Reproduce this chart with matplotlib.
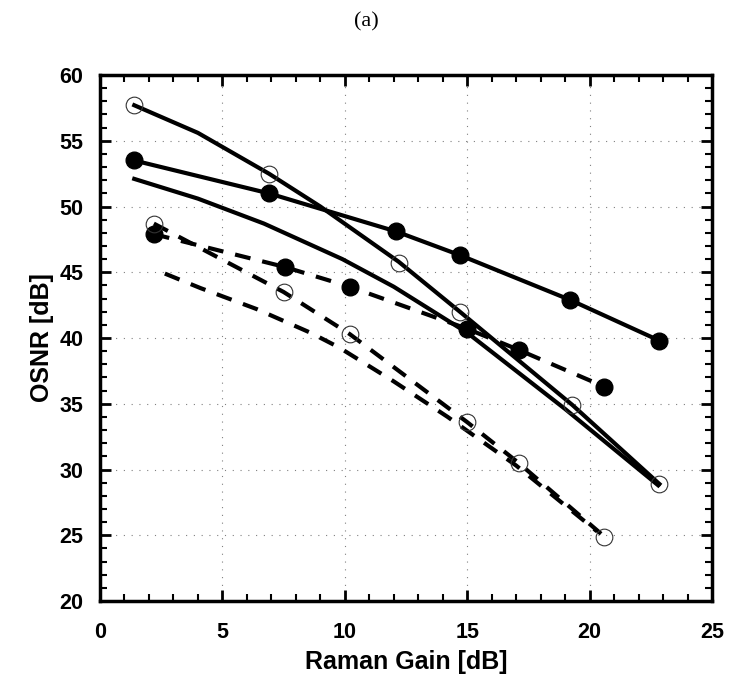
import matplotlib
matplotlib.use("Agg")
import matplotlib.pyplot as plt
from matplotlib.ticker import MultipleLocator

# Solid line with open circles (upper)
s1_x = [1.4, 4.0, 6.9, 9.0, 12.2, 14.7, 19.3, 22.85]
s1_y = [57.7, 55.6, 52.5, 50.0, 45.8, 42.0, 34.9, 28.9]
o1_x = [1.4, 6.9, 12.2, 14.7, 19.3, 22.85]
o1_y = [57.7, 52.5, 45.7, 42.0, 34.9, 28.9]

# Solid line with filled circles
s2_x = [1.4, 6.9, 12.1, 14.7, 19.2, 22.85]
s2_y = [53.5, 51.0, 48.1, 46.3, 42.9, 39.8]

# Solid line without markers
s3_x = [1.4, 4.0, 6.7, 9.9, 12.0, 15.0, 19.0, 22.8]
s3_y = [52.1, 50.6, 48.7, 46.0, 43.9, 40.4, 34.6, 28.8]

# Dashed line with filled circles
d4_x = [2.2, 7.55, 10.2, 15.0, 17.1, 20.6]
d4_y = [47.9, 45.4, 43.9, 40.7, 39.1, 36.3]

# Dashed line with open circles
d5_x = [2.2, 7.5, 10.2, 15.0, 17.1, 20.6]
d5_y = [48.7, 43.5, 40.3, 33.6, 30.5, 24.9]

# Dashed line without markers
d6_x = [2.65, 4.1, 6.4, 8.6, 9.75, 12.0, 14.2, 17.0, 20.3]
d6_y = [44.9, 43.8, 42.2, 40.4, 39.3, 36.7, 34.0, 30.3, 25.3]

x_ticks = [0, 5, 10, 15, 20, 25]
y_ticks = [20, 25, 30, 35, 40, 45, 50, 55, 60]

fig = plt.figure(figsize=(7.33, 6.85), dpi=100)
ax = fig.add_axes([0.1364, 0.1226, 0.8350, 0.7679])

lw = 3.0
dash = (0, (3.8, 2.9))
ax.plot(s1_x, s1_y, color="black", lw=lw, zorder=3)
ax.plot(s2_x, s2_y, color="black", lw=lw, marker="o", ms=12,
        mfc="black", mec="black", zorder=4)
ax.plot(s3_x, s3_y, color="black", lw=lw, zorder=3)
ax.plot(d4_x, d4_y, color="black", lw=lw, ls=dash, marker="o", ms=12,
        mfc="black", mec="black", zorder=4)
ax.plot(d5_x, d5_y, color="black", lw=lw, ls=dash, zorder=3)
ax.plot(d6_x, d6_y, color="black", lw=lw, ls=dash, zorder=3)
ax.plot(o1_x, o1_y, ls="none", marker="o", ms=12, mfc="none", mec="#333333",
        mew=0.8, zorder=5)
ax.plot(d5_x, d5_y, ls="none", marker="o", ms=12, mfc="none", mec="#333333",
        mew=0.8, zorder=5)

ax.set_xlim(0, 25)
ax.set_ylim(20, 60)
ax.set_xticks(x_ticks)
ax.set_yticks(y_ticks)
ax.xaxis.set_minor_locator(MultipleLocator(1))
ax.yaxis.set_minor_locator(MultipleLocator(1))
ax.tick_params(which="both", direction="in", top=True, right=True, width=1.5,
               color="black")
ax.tick_params(which="major", length=8, labelsize=15.5, width=2)
ax.tick_params(which="minor", length=5)
ax.tick_params(axis="x", which="major", pad=15)
ax.tick_params(axis="y", which="major", pad=12)
for lab in ax.get_xticklabels() + ax.get_yticklabels():
    lab.set_fontfamily("Liberation Sans")
    lab.set_fontweight("bold")
for sp in ax.spines.values():
    sp.set_linewidth(2.5)

ax.grid(True, which="major", ls=(0, (1, 6)), color="gray", lw=0.8)

ax.set_xlabel("Raman Gain [dB]", fontsize=18, fontweight="bold",
              family="Liberation Sans", labelpad=5)
ax.set_ylabel("OSNR [dB]", fontsize=18, fontweight="bold",
              family="Liberation Sans", labelpad=4)
fig.text(0.5, 0.968, "(a)", ha="center", va="center", fontsize=16,
         family="Liberation Serif")

fig.savefig("out.png", dpi=100)
